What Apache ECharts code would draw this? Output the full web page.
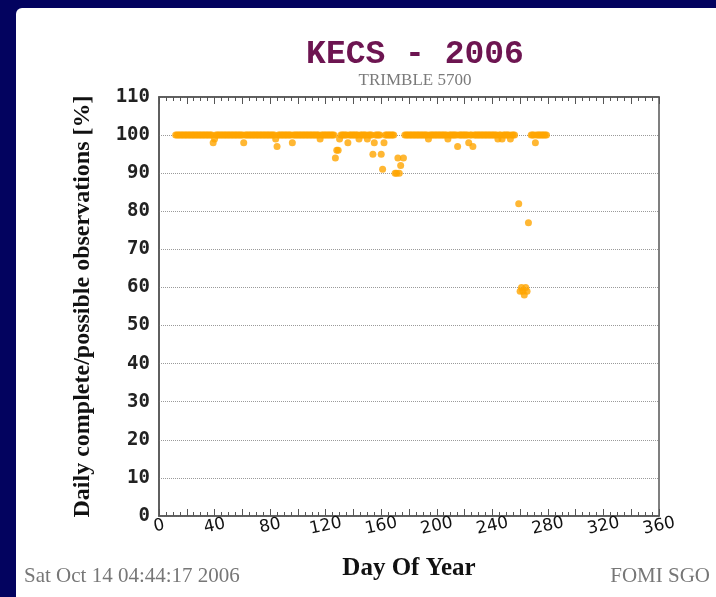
<!DOCTYPE html>
<html>
<head>
<meta charset="utf-8">
<title>KECS - 2006</title>
<script src="https://cdn.jsdelivr.net/npm/echarts@6/dist/echarts.min.js"></script>
<style>
    html, body { margin: 0; padding: 0; background: #03035f; }
    #chart { width: 716px; height: 597px; }
</style>
</head>
<body>
<div id="chart"></div>
<script>
// day of year of the first value in completeness[]
var firstDay = 12;
// daily complete/possible observations [%], one entry per day, null = no data
var completeness = [
    100, 100, 100, 100, 100, 100, 100, 100,                 // 12-19
    100, 100, 100, 100, 100, 100, 100, 100, 100, 100,       // 20-29
    100, 100, 100, 100, 100, 100, 100, 100, 100, 98,        // 30-39
    99, 100, 100, 100, 100, 100, 100, 100, 100, 100,        // 40-49
    100, 100, 100, 100, 100, 100, 100, 100, 100, 100,       // 50-59
    100, 98, 100, 100, 100, 100, 100, 100, 100, 100,        // 60-69
    100, 100, 100, 100, 100, 100, 100, 100, 100, 100,       // 70-79
    100, 100, 100, 100, 99, 97, 100, 100, 100, 100,         // 80-89
    100, 100, 100, 100, 100, 100, 98, 100, 100, 100,        // 90-99
    100, 100, 100, 100, 100, 100, 100, 100, 100, 100,       // 100-109
    100, 100, 100, 100, 100, 100, 99, 100, 100, 100,        // 110-119
    100, 100, 100, 100, 100, 100, 100, 94, 96, 96,          // 120-129
    99, 100, 100, 100, 100, 100, 98, 100, 100, 100,         // 130-139
    100, 100, 100, 100, 99, 100, 100, 100, 100, 100,        // 140-149
    99, 100, 100, 100, 95, 98, 100, 100, 100, 100,          // 150-159
    95, 91, 98, 100, 100, 100, 100, 100, 100, 100,          // 160-169
    90, 90, 94, 90, 92, null, 94, 100, 100, 100,            // 170-179
    100, 100, 100, 100, 100, 100, 100, 100, 100, 100,       // 180-189
    100, 100, 100, 100, 99, 100, 100, 100, 100, 100,        // 190-199
    100, 100, 100, 100, 100, 100, 100, 100, 99, 100,        // 200-209
    100, 100, 100, 100, 100, 97, 100, 100, 100, 100,        // 210-219
    100, 100, 100, 98, 100, 100, 97, 100, 100, 100,         // 220-229
    100, 100, 100, 100, 100, 100, 100, 100, 100, 100,       // 230-239
    100, 100, 100, 100, 99, 100, 100, 99, 100, 100,         // 240-249
    100, 100, 100, 99, 100, 100, 100, null, null, 82,       // 250-259
    59, 60, 59, 58, 60, 59, 77, null, 100, 100,             // 260-269
    100, 98, 100, 100, 100, 100, 100, 100, 100, 100         // 270-279
];
var yTicks = [0, 10, 20, 30, 40, 50, 60, 70, 80, 90, 100, 110];
var xLabels = [0, 40, 80, 120, 160, 200, 240, 280, 320, 360];

var points = [];
for (var i = 0; i < completeness.length; i++) {
    if (completeness[i] !== null) {
        points.push([firstDay + i, completeness[i]]);
    }
}

var myChart = echarts.init(document.getElementById('chart'));

var option = {
    backgroundColor: '#03035f',
    animation: false,
    title: {
        text: 'KECS - 2006',
        subtext: 'TRIMBLE 5700',
        left: 410,
        top: 33,
        textAlign: 'center',
        itemGap: 1,
        textStyle: {
            fontFamily: 'Liberation Mono',
            fontWeight: 'bold',
            fontSize: 33,
            color: '#6d1551'
        },
        subtextStyle: {
            fontFamily: 'Liberation Serif',
            fontSize: 17,
            color: '#7a7a7a'
        }
    },
    graphic: [
        {
            type: 'rect',
            z: -10,
            shape: { x: 16, y: 8, width: 720, height: 600, r: 6 },
            style: { fill: '#ffffff' }
        },
        {
            type: 'text',
            left: 24,
            top: 566,
            style: {
                text: 'Sat Oct 14 04:44:17 2006',
                fontFamily: 'Liberation Serif',
                fontSize: 21,
                fill: '#777777'
            }
        },
        {
            type: 'text',
            right: 6,
            top: 566,
            style: {
                text: 'FOMI SGO',
                fontFamily: 'Liberation Serif',
                fontSize: 21,
                fill: '#777777'
            }
        }
    ],
    grid: {
        left: 159,
        right: 57,
        top: 97,
        bottom: 81,
        show: true,
        borderColor: '#555',
        borderWidth: 1.5,
        backgroundColor: 'transparent'
    },
    xAxis: [
        {
            type: 'value',
            min: 0,
            max: 360,
            interval: 20,
            name: 'Day Of Year',
            nameLocation: 'middle',
            nameGap: 40,
            nameTextStyle: {
                fontFamily: 'Liberation Serif',
                fontWeight: 'bold',
                fontSize: 25,
                color: '#111'
            },
            axisLine: { lineStyle: { color: '#555', width: 1.5 } },
            axisTick: { inside: true, length: 7, lineStyle: { color: '#555' } },
            minorTick: { show: true, splitNumber: 4, length: 4, lineStyle: { color: '#555' } },
            splitLine: { show: false },
            axisLabel: {
                rotate: 12,
                align: 'center',
                margin: 10,
                fontFamily: 'DejaVu Sans',
                fontSize: 17,
                color: '#111',
                formatter: function (v) {
                    return xLabels.indexOf(v) >= 0 ? String(v) : '';
                }
            }
        },
        {
            type: 'value',
            position: 'top',
            min: 0,
            max: 360,
            interval: 20,
            axisLine: { lineStyle: { color: '#555', width: 1.5 } },
            axisTick: { inside: true, length: 7, lineStyle: { color: '#555' } },
            minorTick: { show: true, splitNumber: 4, length: 4, lineStyle: { color: '#555' } },
            splitLine: { show: false },
            axisLabel: { show: false }
        }
    ],
    yAxis: [
        {
            type: 'value',
            min: 0,
            max: 110,
            interval: 10,
            name: 'Daily complete/possible observations [%]',
            nameLocation: 'middle',
            nameGap: 64,
            nameTextStyle: {
                fontFamily: 'Liberation Serif',
                fontWeight: 'bold',
                fontSize: 24,
                color: '#111'
            },
            axisLine: { lineStyle: { color: '#555', width: 1.5 } },
            axisTick: { show: false },
            splitLine: {
                show: true,
                lineStyle: { type: 'dotted', color: '#9a9a9a', width: 1 }
            },
            axisLabel: {
                margin: 9,
                fontFamily: 'DejaVu Sans Mono',
                fontWeight: 'bold',
                fontSize: 19,
                color: '#222',
                formatter: function (v) {
                    return yTicks.indexOf(v) >= 0 ? String(v) : '';
                }
            }
        }
    ],
    series: [
        {
            name: 'KECS',
            type: 'scatter',
            symbol: 'circle',
            symbolSize: 7,
            itemStyle: { color: '#ffa500' },
            data: points
        }
    ]
};

myChart.setOption(option);
</script>
</body>
</html>
